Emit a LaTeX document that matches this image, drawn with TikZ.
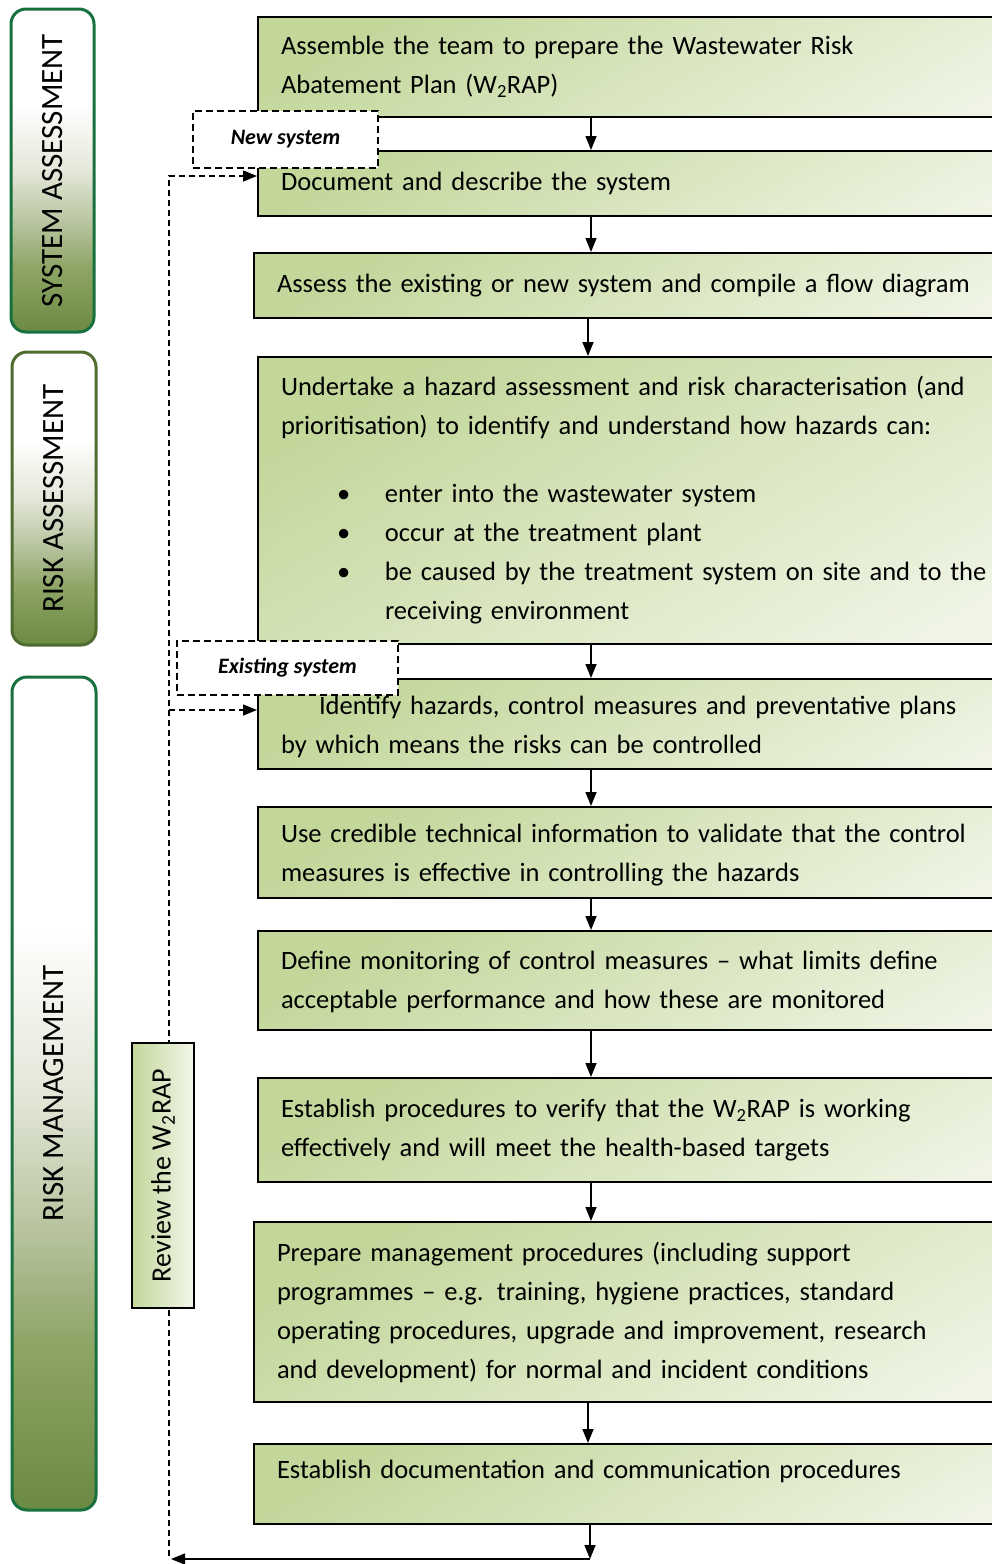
\documentclass[tikz,border=0pt]{standalone}
\usepackage{fontspec}
\setmainfont{Carlito}
\usetikzlibrary{arrows.meta}

\definecolor{boxTop}{HTML}{C3D79B}
\definecolor{boxBot}{HTML}{EFF4E4}
\definecolor{reviewRight}{HTML}{F2F6EA}
\definecolor{barEdge}{HTML}{18703E}
\definecolor{barEdgeOlive}{HTML}{4F6B2F}
\definecolor{barDeep}{HTML}{6B8A43}
\definecolor{barC}{HTML}{8EA566}
\definecolor{barB}{HTML}{B8C4A0}
\definecolor{barA}{HTML}{E3E7D8}

% white at the top fading into olive green at the bottom
\pgfdeclareverticalshading{barshade}{100bp}{%
  color(0bp)=(barDeep); color(25bp)=(barDeep); color(35bp)=(barC);
  color(42bp)=(barB); color(50bp)=(barA); color(60bp)=(white);
  color(100bp)=(white)}

\tikzset{
  flowbox/.style={draw=black, line width=2pt, top color=boxTop,
    bottom color=boxBot, shading angle=30, anchor=north west,
    text width=780pt, inner xsep=23pt, inner ysep=0pt, align=left,
    font=\fontsize{26.5}{39}\selectfont},
  phasebar/.style={draw=barEdge, line width=3pt, rounded corners=15pt,
    shade, shading=barshade, inner sep=0pt,
    font=\fontsize{31}{32}\selectfont},
  tagbox/.style={draw=black, line width=2pt, dash pattern=on 7pt off 4pt,
    fill=white, inner sep=0pt, font=\fontsize{22}{23}\selectfont\bfseries\itshape},
  reviewbox/.style={draw=black, line width=2pt, left color=boxTop,
    right color=reviewRight, inner sep=0pt, font=\fontsize{28}{29}\selectfont},
  flowarrow/.style={draw=black, line width=1.5pt,
    -{Triangle[length=14pt,width=11pt]}},
  loopline/.style={draw=black, line width=1.5pt, dash pattern=on 6pt off 4pt,
    -{Triangle[length=14pt,width=11pt]}},
}

\begin{document}
\begin{tikzpicture}[x=1pt,y=-1pt]
\clip (0,0) rectangle (992,1564);

% phase bars on the left
\node[phasebar, minimum width=83pt, minimum height=323pt] (sysA) at (52.5,170.5)
  {\rotatebox{90}{SYSTEM ASSESSMENT}};
\node[phasebar, draw=barEdgeOlive, minimum width=84pt, minimum height=293pt] (riskA) at (54,498.5)
  {\rotatebox{90}{RISK ASSESSMENT}};
\node[phasebar, minimum width=84pt, minimum height=833pt] (riskM) at (54,1093.5)
  {\rotatebox{90}{RISK MANAGEMENT}};

% process steps
\node[flowbox, minimum height=100pt] (b1) at (257,16)
  {Assemble the team to prepare the Wastewater Risk\\
   Abatement Plan (W\textsubscript{2}RAP)};
\node[flowbox, minimum height=65pt] (b2) at (257,150)
  {Document and describe the system};
\node[flowbox, minimum height=65pt] (b3) at (253,252)
  {Assess the existing or new system and compile a flow diagram};
\node[flowbox, minimum height=287pt] (b4) at (257,356)
  {Undertake a hazard assessment and risk characterisation (and\\
   prioritisation) to identify and understand how hazards can:\\[29pt]
   \hspace*{56pt}\makebox[48pt][l]{\textbullet}enter into the wastewater system\\
   \hspace*{56pt}\makebox[48pt][l]{\textbullet}occur at the treatment plant\\
   \hspace*{56pt}\makebox[48pt][l]{\textbullet}be caused by the treatment system on site and to the\\
   \hspace*{104pt}receiving environment};
\node[flowbox, minimum height=90pt, text depth=37.5pt] (b5) at (257,678)
  {\hspace*{38pt}Identify hazards, control measures and preventative plans\\
   by which means the risks can be controlled};
\node[flowbox, minimum height=91pt, text depth=37.5pt] (b6) at (257,806)
  {Use credible technical information to validate that the control\\
   measures is effective in controlling the hazards};
\node[flowbox, minimum height=99pt, text depth=39.5pt] (b7) at (257,930)
  {Define monitoring of control measures -- what limits define\\
   acceptable performance and how these are monitored};
\node[flowbox, minimum height=104pt] (b8) at (257,1077)
  {Establish procedures to verify that the W\textsubscript{2}RAP is working\\
   effectively and will meet the health-based targets};
\node[flowbox, minimum height=180pt] (b9) at (253,1221)
  {Prepare management procedures (including support\\
   programmes -- e.g. training, hygiene practices, standard\\
   operating procedures, upgrade and improvement, research\\
   and development) for normal and incident conditions};
\node[flowbox, minimum height=80pt, text height=19pt, text depth=30pt] (b10) at (253,1443)
  {Establish documentation and communication procedures};

% main flow
\coordinate (ax) at (591,0);
\coordinate (axL) at (588,0);
\draw[flowarrow] (b1.south -| ax) -- (b2.north -| ax);
\draw[flowarrow] (b2.south -| ax) -- (b3.north -| ax);
\draw[flowarrow] (b3.south -| axL) -- (b4.north -| axL);
\draw[flowarrow] (b4.south -| ax) -- (b5.north -| ax);
\draw[flowarrow] (b5.south -| ax) -- (b6.north -| ax);
\draw[flowarrow] (b6.south -| ax) -- (b7.north -| ax);
\draw[flowarrow] (b7.south -| ax) -- (b8.north -| ax);
\draw[flowarrow] (b8.south -| ax) -- (b9.north -| ax);
\draw[flowarrow] (b9.south -| axL) -- (b10.north -| axL);

% return loop
\coordinate (loopR) at (590,1559);
\coordinate (loopL) at (171,1559);
\coordinate (fbBottom) at (169,1556);
\coordinate (fbTop) at (169,176);
\coordinate (fbMid) at (169,710);
\draw[flowarrow] (b10.south -| loopR) -- (loopR);
\draw[flowarrow] (loopR) -- (loopL);
\draw[loopline] (fbBottom) -- (fbTop) -- (fbTop -| b2.west);
\draw[loopline] (fbMid) -- (fbMid -| b5.west);

% entry labels and review box
\node[tagbox, minimum width=185pt, minimum height=57pt] (newSys) at (285.5,139.5) {New system};
\node[tagbox, minimum width=221pt, minimum height=54pt] (oldSys) at (287.5,668) {Existing system};
\node[reviewbox, minimum width=62pt, minimum height=265pt] (review) at (163,1175.5)
  {\rotatebox{90}{Review the W\textsubscript{2}RAP}};
\end{tikzpicture}
\end{document}
